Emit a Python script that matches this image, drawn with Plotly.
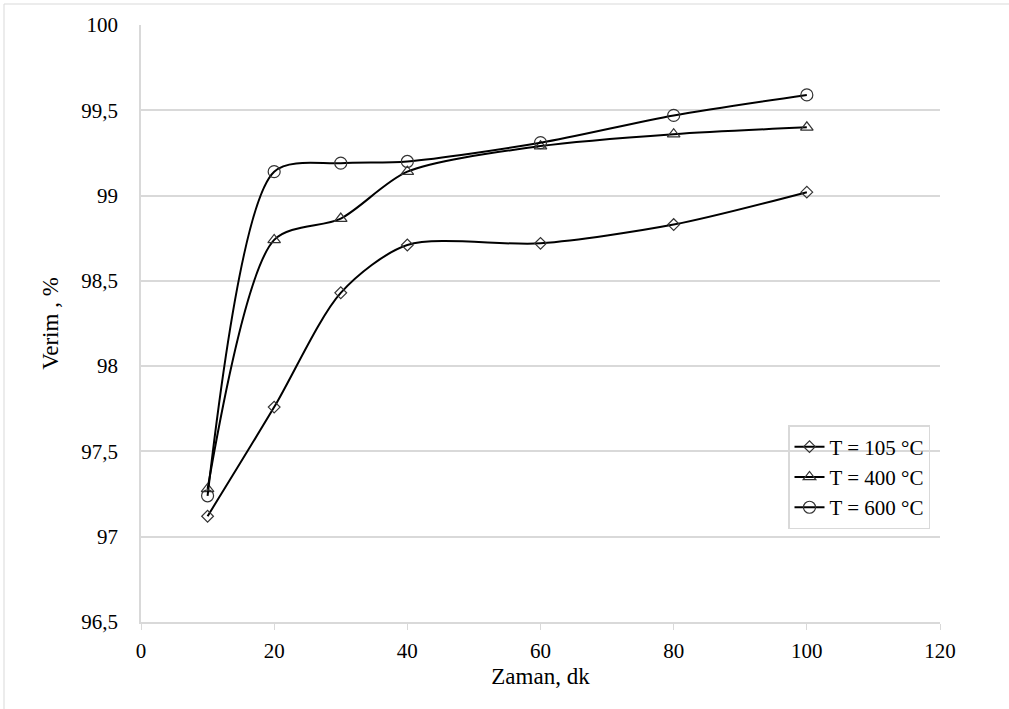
import plotly.graph_objects as go

time_min = [10, 20, 30, 40, 60, 80, 100]
yield_105 = [97.12, 97.76, 98.43, 98.71, 98.72, 98.83, 99.02]
yield_400 = [97.28, 98.74, 98.865, 99.14, 99.29, 99.36, 99.40]
yield_600 = [97.24, 99.14, 99.19, 99.20, 99.31, 99.47, 99.59]
series_names = ["T = 105 °C", "T = 400 °C", "T = 600 °C"]
y_tickvals = [96.5, 97, 97.5, 98, 98.5, 99, 99.5, 100]
y_ticktext = ["96,5", "97", "97,5", "98", "98,5", "99", "99,5", "100"]
x_tickvals = [0, 20, 40, 60, 80, 100, 120]

W, H = 1009, 709
L, R, T, B = 141, 69, 25, 87
FONT = "Liberation Serif, Times New Roman, serif"

fig = go.Figure()
symbols = ["diamond-open", "triangle-up-open", "circle-open"]
sizes = [9, 11, 12]
for name, ys, sym, sz in zip(series_names, [yield_105, yield_400, yield_600], symbols, sizes):
    fig.add_trace(go.Scatter(
        x=time_min, y=ys, name=name, mode="lines+markers",
        line=dict(color="black", width=2, shape="spline", smoothing=0.8),
        marker=dict(symbol=sym, size=sz, color="#333333", line=dict(color="#333333", width=1.2)),
    ))

pw = W - L - R
ph = H - T - B
def px_x(p):
    return (p - L) / pw
def px_y(p):
    return 1 - (p - T) / ph

fig.add_shape(type="rect", xref="paper", yref="paper",
              x0=px_x(4), x1=px_x(1012), y0=px_y(712), y1=px_y(4),
              line=dict(color="#d9d9d9", width=1), layer="below")

fig.update_layout(
    width=W, height=H,
    margin=dict(l=L, r=R, t=T, b=B),
    paper_bgcolor="white", plot_bgcolor="white",
    font=dict(family=FONT, size=21, color="black"),
    showlegend=True,
    legend=dict(
        x=px_x(788), y=px_y(425), xanchor="left", yanchor="top",
        bgcolor="rgba(0,0,0,0)", bordercolor="#d9d9d9", borderwidth=1.5,
        font=dict(family=FONT, size=21), tracegroupgap=0, itemwidth=30,
    ),
    xaxis=dict(
        range=[0, 120], tickvals=x_tickvals, showgrid=False,
        showline=True, linecolor="#d9d9d9", linewidth=1.5,
        ticks="outside", ticklen=6, tickcolor="#d9d9d9",
        zeroline=False, ticklabelstandoff=3,
        title=dict(text="Zaman, dk", font=dict(family=FONT, size=23), standoff=6),
    ),
    yaxis=dict(
        range=[96.5, 100], tickvals=y_tickvals, ticktext=y_ticktext,
        showgrid=True, gridcolor="#d9d9d9", gridwidth=1.5,
        showline=True, linecolor="#d9d9d9", linewidth=1.5,
        ticks="", zeroline=False, ticklabelstandoff=17,
        title=dict(text="Verim , %", font=dict(family=FONT, size=23), standoff=16),
    ),
)

fig.write_html("out.html")
